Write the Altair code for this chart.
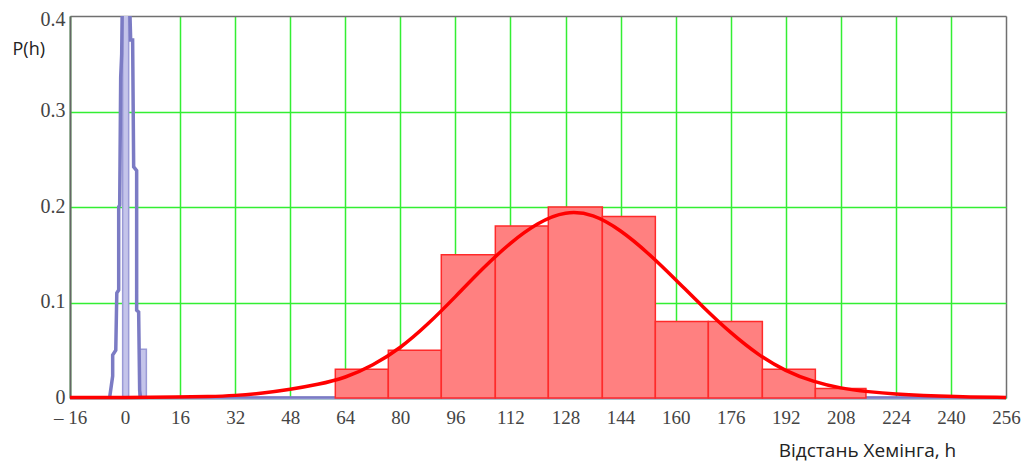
import altair as alt
import pandas as pd

# ---- data ----
x_ticks = list(range(-16, 257, 16))
y_ticks = [0, 0.1, 0.2, 0.3, 0.4]

red_left = [61.1, 76.5, 91.9, 107.6, 123.0, 138.7, 154.1, 169.5, 185.2, 200.6]
red_right = [76.5, 91.9, 107.6, 123.0, 138.7, 154.1, 169.5, 185.2, 200.6, 215.3]
red_p = [0.03, 0.05, 0.15, 0.18, 0.20, 0.19, 0.08, 0.08, 0.03, 0.01]

curve_h = [-16, 0, 16, 24, 32, 40, 48, 56, 64, 72, 80, 88, 96, 104, 112, 120, 128,
           136, 144, 152, 160, 168, 176, 184, 192, 200, 208, 216, 224, 232, 240, 256]
curve_p = [0.0005, 0.0005, 0.001, 0.0015, 0.0025, 0.005, 0.009, 0.014, 0.021, 0.034, 0.052,
           0.077, 0.106, 0.136, 0.163, 0.184, 0.196, 0.193, 0.176, 0.152, 0.124,
           0.095, 0.068, 0.045, 0.028, 0.017, 0.010, 0.0065, 0.004, 0.0025, 0.0015, 0.0005]

blue_h = [-16, -4.5, -3.6, -3.6, -2.7, -2.4, -1.85, -1.85, -1.56, -1.27, -0.98, -0.69,
          1.05, 1.63, 2.2, 2.5, 3.37, 3.37, 3.95, 4.24, 4.53, 256]
blue_p = [0, 0, 0.023, 0.045, 0.05, 0.11, 0.113, 0.2, 0.202, 0.336, 0.36, 0.45,
          0.45, 0.375, 0.375, 0.242, 0.238, 0.092, 0.09, 0.008, 0, 0]

blue_bar_left = [-0.7, 4.04]
blue_bar_right = [1.05, 6.19]
blue_bar_p = [0.5, 0.051]

x_min, x_max = -16, 256

red_df = pd.DataFrame({"l": red_left, "r": red_right, "p": red_p, "b": [0] * len(red_p)})
curve_df = pd.DataFrame({"h": curve_h, "p": curve_p})
blue_df = pd.DataFrame({"h": blue_h, "p": blue_p, "i": list(range(len(blue_h)))})
bbar_df = pd.DataFrame({"l": blue_bar_left, "r": blue_bar_right, "p": blue_bar_p, "b": [0, 0]})
base_df = pd.DataFrame({"a": [x_min], "z": [x_max], "y": [0]})

GREEN = "#33ee33"
FRAME = "#707070"
RED = "#ff0000"
BLUE = "#7b7bc4"

xscale = alt.Scale(domain=[x_min, x_max], nice=False, zero=False)
yscale = alt.Scale(domain=[0, 0.4], nice=False, zero=False)

xaxis = alt.Axis(
    values=x_ticks,
    labelExpr="datum.value < 0 ? '\u2013 16' : datum.label",
    grid=True,
    gridColor=alt.condition("datum.value >= 256", alt.value(FRAME), alt.value(GREEN)),
    gridWidth=1.5,
    ticks=False,
    domain=False,
    labelFont="Liberation Serif",
    labelFontSize=19,
    labelColor="#444444",
    labelPadding=10,
    labelFlush=False,
    title="Відстань Хемінга, h",
    titleFont="Open Sans",
    titleFontSize=19,
    titleFontWeight="normal",
    titleColor="#222222",
    titleX=797,
    titleY=52,
    titleAlign="center",
    titleBaseline="middle",
)

yaxis = alt.Axis(
    values=y_ticks,
    labelExpr="datum.value == 0 ? '0' : format(datum.value, '.1f')",
    grid=True,
    gridColor=alt.condition("datum.value >= 0.4", alt.value(FRAME), alt.value(GREEN)),
    gridWidth=1.5,
    ticks=False,
    domain=True,
    domainColor="#666666",
    domainWidth=2,
    labelFont="Liberation Serif",
    labelFontSize=20,
    labelColor="#444444",
    labelPadding=5,
    labelOffset=alt.condition("datum.value >= 0.4", alt.value(3), alt.value(-1)),
    labelFlush=False,
    title="P(h)",
    titleFont="Open Sans",
    titleFontSize=18,
    titleFontWeight="normal",
    titleColor="#222222",
    titleAngle=0,
    titleAlign="left",
    titleBaseline="middle",
    titleX=-58,
    titleY=33,
)

baseline = alt.Chart(base_df).mark_rule(color="#8c8cd0", strokeWidth=3).encode(
    x=alt.X("a:Q", scale=xscale, axis=xaxis),
    x2="z:Q",
    y=alt.Y("y:Q", scale=yscale, axis=yaxis),
)

blue_bars = alt.Chart(bbar_df).mark_rect(
    fill="#c4c4ea", stroke="#9a9ad6", strokeWidth=1.5, clip=True
).encode(
    x=alt.X("l:Q", scale=xscale),
    x2="r:Q",
    y=alt.Y("p:Q", scale=yscale),
    y2="b:Q",
)

blue_line = alt.Chart(blue_df).mark_line(
    color=BLUE, strokeWidth=3.5, clip=True
).encode(
    x=alt.X("h:Q", scale=xscale),
    y=alt.Y("p:Q", scale=yscale),
    order="i:Q",
)

red_bars = alt.Chart(red_df).mark_rect(
    fill="#ff8080", stroke="#ff2a2a", strokeWidth=1.5
).encode(
    x=alt.X("l:Q", scale=xscale),
    x2="r:Q",
    y=alt.Y("p:Q", scale=yscale),
    y2="b:Q",
)

red_curve = alt.Chart(curve_df).mark_line(
    color=RED, strokeWidth=3.5, interpolate="basis"
).encode(
    x=alt.X("h:Q", scale=xscale),
    y=alt.Y("p:Q", scale=yscale),
)

chart = alt.layer(baseline, blue_bars, blue_line, red_bars, red_curve).properties(
    width=936,
    height=382,
    autosize=alt.AutoSizeParams(type="none"),
    padding={"left": 62, "top": 8, "right": 20, "bottom": 66},
).configure_view(
    stroke=FRAME, strokeWidth=1.5
).configure(background="white")

chart.save("out.html", embed_options={"renderer": "svg", "actions": False})
